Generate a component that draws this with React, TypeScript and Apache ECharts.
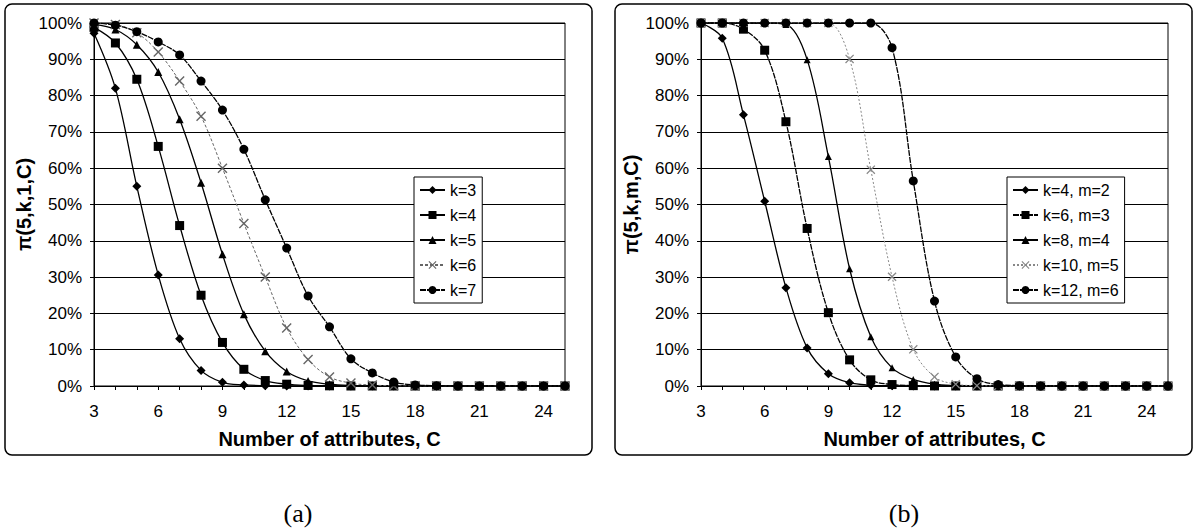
import React, { useEffect, useRef } from "react";
import * as echarts from "echarts";

// ---------- data ----------
const xValues = [3, 4, 5, 6, 7, 8, 9, 10, 11, 12, 13, 14, 15, 16, 17, 18, 19, 20, 21, 22, 23, 24, 25];

const leftNames = ["k=3", "k=4", "k=5", "k=6", "k=7"];
const k3 = [97.2, 82, 55, 30.6, 13, 4.3, 1, 0.3, 0.1, 0.03, 0, 0, 0, 0, 0, 0, 0, 0, 0, 0, 0, 0, 0];
const k4 = [98.8, 94.5, 84.5, 66, 44.2, 25, 12, 4.6, 1.5, 0.5, 0.15, 0.05, 0, 0, 0, 0, 0, 0, 0, 0, 0, 0, 0];
const k5 = [99.6, 98.2, 94, 86.5, 73.5, 56, 36.3, 19.8, 9.6, 4, 1.4, 0.5, 0.15, 0.05, 0, 0, 0, 0, 0, 0, 0, 0, 0];
const k6 = [100, 99.6, 97.3, 92, 84, 74.3, 60, 44.8, 30, 16, 7.3, 2.5, 0.8, 0.25, 0.08, 0, 0, 0, 0, 0, 0, 0, 0];
const k7 = [100, 99.4, 97.6, 94.8, 91.2, 84, 76, 65.2, 51.3, 38, 24.8, 16.3, 7.5, 3.6, 1.1, 0.3, 0.1, 0, 0, 0, 0, 0, 0];

const rightNames = ["k=4, m=2", "k=6, m=3", "k=8, m=4", "k=10, m=5", "k=12, m=6"];
const k4m2 = [100, 95.8, 74.7, 50.9, 27.1, 10.5, 3.4, 0.9, 0.2, 0.05, 0, 0, 0, 0, 0, 0, 0, 0, 0, 0, 0, 0, 0];
const k6m3 = [100, 100, 98.3, 92.5, 72.8, 43.4, 20.2, 7.2, 1.7, 0.4, 0.1, 0.02, 0, 0, 0, 0, 0, 0, 0, 0, 0, 0, 0];
const k8m4 = [100, 100, 100, 100, 99.6, 89.9, 63.2, 32.3, 13.6, 5, 1.8, 0.5, 0.15, 0.04, 0, 0, 0, 0, 0, 0, 0, 0, 0];
const k10m5 = [100, 100, 100, 100, 100, 100, 100, 90.1, 59.6, 30.1, 10.1, 2.5, 0.5, 0.1, 0, 0, 0, 0, 0, 0, 0, 0, 0];
const k12m6 = [100, 100, 100, 100, 100, 100, 100, 100, 100, 93.2, 56.5, 23.4, 8, 2, 0.4, 0.1, 0, 0, 0, 0, 0, 0, 0];

const yTickValues = [0, 10, 20, 30, 40, 50, 60, 70, 80, 90, 100];
const xAxisTitle = "Number of attributes, C";
const leftYTitle = "π(5,k,1,C)";
const rightYTitle = "π(5,k,m,C)";
const captions = ["(a)", "(b)"];

// ---------- styling helpers ----------
const CROSS = "path://M0,1L1,0L5,4L9,0L10,1L6,5L10,9L9,10L5,6L1,10L0,9L4,5Z";
const FONT = "'Liberation Sans', Arial, sans-serif";

const pairs = (ys: number[]) => xValues.map((x, i) => [x, ys[i]]);

type SeriesStyle = {
  symbol: string;
  size: number;
  color: string;
  lineType: any;
  lineWidth: number;
};

const leftStyles: SeriesStyle[] = [
  { symbol: "diamond", size: 9, color: "#000", lineType: "solid", lineWidth: 1.3 },
  { symbol: "rect", size: 9, color: "#000", lineType: "solid", lineWidth: 1.3 },
  { symbol: "triangle", size: 8, color: "#000", lineType: "solid", lineWidth: 1.3 },
  { symbol: CROSS, size: 10, color: "#666", lineType: [3, 2], lineWidth: 1 },
  { symbol: "circle", size: 9, color: "#000", lineType: [6, 1], lineWidth: 1.3 },
];
const rightStyles: SeriesStyle[] = [
  { symbol: "diamond", size: 9, color: "#000", lineType: "solid", lineWidth: 1.3 },
  { symbol: "rect", size: 9, color: "#000", lineType: [6, 1], lineWidth: 1.3 },
  { symbol: "triangle", size: 7, color: "#000", lineType: "solid", lineWidth: 1.3 },
  { symbol: CROSS, size: 9, color: "#888", lineType: [2, 2], lineWidth: 1 },
  { symbol: "circle", size: 9, color: "#000", lineType: [6, 1], lineWidth: 1.3 },
];

function makeSeries(name: string, ys: number[], st: SeriesStyle, idx: number) {
  return {
    type: "line",
    name,
    xAxisIndex: idx,
    yAxisIndex: idx,
    data: pairs(ys),
    smooth: 0.35,
    symbol: st.symbol,
    symbolSize: st.size,
    showAllSymbol: true,
    itemStyle: { color: st.color },
    lineStyle: { color: st.color, width: st.lineWidth, type: st.lineType },
    emphasis: { disabled: true },
  };
}

function xAxis(gridIndex: number) {
  return {
    type: "value",
    gridIndex,
    min: 3,
    max: 25,
    interval: 3,
    name: xAxisTitle,
    nameLocation: "middle",
    nameGap: 43,
    nameTextStyle: { fontSize: 20, fontWeight: "bold", color: "#000", fontFamily: FONT },
    axisLine: { show: true, onZero: false, lineStyle: { color: "#000", width: 1 } },
    axisTick: { show: true, length: 4, lineStyle: { color: "#000" } },
    minorTick: { show: true, splitNumber: 3, length: 4, lineStyle: { color: "#000" } },
    axisLabel: { margin: 17, fontSize: 17, color: "#000", fontFamily: FONT, showMaxLabel: false },
    splitLine: { show: false },
  };
}

function yAxis(gridIndex: number, title: string) {
  return {
    type: "value",
    gridIndex,
    min: 0,
    max: 100,
    interval: 10,
    name: title,
    nameLocation: "middle",
    nameGap: 60,
    nameTextStyle: { fontSize: 20, fontWeight: "bold", color: "#000", fontFamily: FONT },
    axisLine: { show: true, lineStyle: { color: "#000", width: 1 } },
    axisTick: { show: true, length: 4, lineStyle: { color: "#000" } },
    axisLabel: {
      margin: 12,
      fontSize: 17,
      color: "#000",
      fontFamily: FONT,
      formatter: (v: number) => (yTickValues.includes(v) ? `${v}%` : ""),
    },
    splitLine: { show: true, lineStyle: { color: "#000", width: 1 } },
  };
}

function legend(names: string[], left: number, top: number) {
  return {
    data: names,
    orient: "vertical",
    left,
    top,
    itemWidth: 25,
    itemHeight: 10,
    itemGap: 9,
    padding: [5, 6, 5, 5],
    borderColor: "#000",
    borderWidth: 1,
    backgroundColor: "#fff",
    textStyle: { fontSize: 16, color: "#000", fontFamily: FONT },
    selectedMode: false,
  };
}

export default function App() {
  const ref = useRef<HTMLDivElement>(null);

  useEffect(() => {
    if (!ref.current) return;
    const chart = echarts.init(ref.current, null, { renderer: "svg" });
    const option: any = {
      animation: false,
      backgroundColor: "#fff",
      textStyle: { fontFamily: FONT },
      grid: [
        { left: 94, right: 1195 - 565, top: 23, bottom: 532 - 386, show: true, borderColor: "#000", borderWidth: 1 },
        { left: 701, right: 1195 - 1168, top: 23, bottom: 532 - 386, show: true, borderColor: "#000", borderWidth: 1 },
      ],
      xAxis: [xAxis(0), xAxis(1)],
      yAxis: [yAxis(0, leftYTitle), yAxis(1, rightYTitle)],
      legend: [legend(leftNames, 414, 177), legend(rightNames, 1007, 177)],
      series: [
        makeSeries(leftNames[0], k3, leftStyles[0], 0),
        makeSeries(leftNames[1], k4, leftStyles[1], 0),
        makeSeries(leftNames[2], k5, leftStyles[2], 0),
        makeSeries(leftNames[3], k6, leftStyles[3], 0),
        makeSeries(leftNames[4], k7, leftStyles[4], 0),
        makeSeries(rightNames[0], k4m2, rightStyles[0], 1),
        makeSeries(rightNames[1], k6m3, rightStyles[1], 1),
        makeSeries(rightNames[2], k8m4, rightStyles[2], 1),
        makeSeries(rightNames[3], k10m5, rightStyles[3], 1),
        makeSeries(rightNames[4], k12m6, rightStyles[4], 1),
      ],
      graphic: [
        {
          type: "rect",
          shape: { x: 5, y: 4, width: 587, height: 451, r: 7 },
          style: { fill: "none", stroke: "#000", lineWidth: 1.5 },
          z: -1,
          silent: true,
        },
        {
          type: "rect",
          shape: { x: 615, y: 4, width: 577, height: 451, r: 7 },
          style: { fill: "none", stroke: "#000", lineWidth: 1.5 },
          z: -1,
          silent: true,
        },
        {
          type: "text",
          x: 298,
          y: 513,
          style: {
            text: captions[0],
            fontSize: 26,
            fontFamily: "'Liberation Serif', 'DejaVu Serif', serif",
            fill: "#000",
            align: "center",
            verticalAlign: "middle",
          },
        },
        {
          type: "text",
          x: 904,
          y: 513,
          style: {
            text: captions[1],
            fontSize: 26,
            fontFamily: "'Liberation Serif', 'DejaVu Serif', serif",
            fill: "#000",
            align: "center",
            verticalAlign: "middle",
          },
        },
      ],
    };
    chart.setOption(option);
    return () => chart.dispose();
  }, []);

  return (
    <div
      ref={ref}
      style={{ position: "absolute", left: 0, top: 0, width: 1195, height: 532, background: "#fff" }}
    />
  );
}
